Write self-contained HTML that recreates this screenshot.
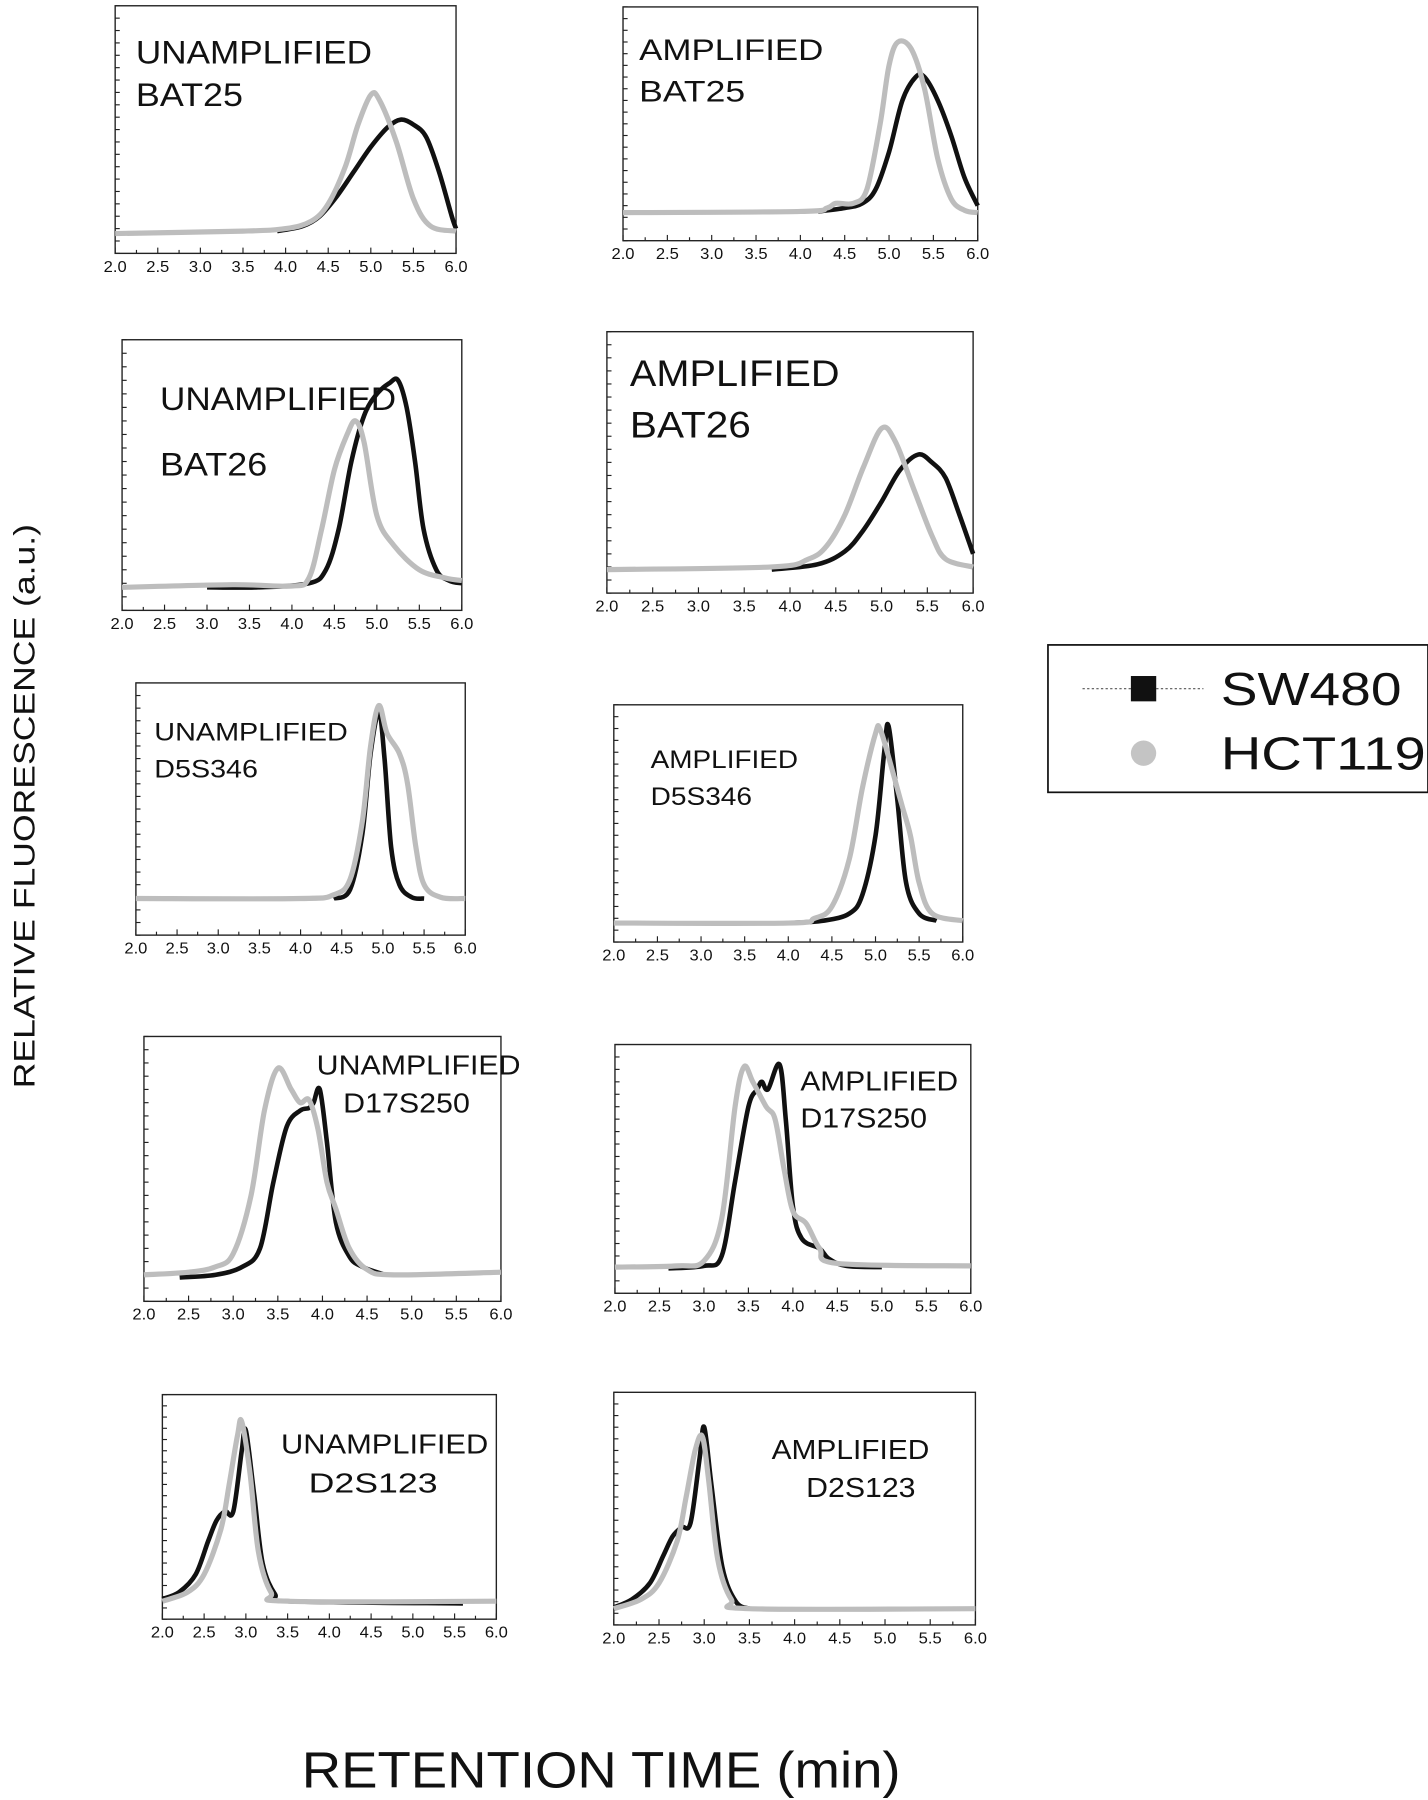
<!DOCTYPE html>
<html><head><meta charset="utf-8"><style>
html,body{margin:0;padding:0;background:#fff;}
svg{display:block;}
text{font-family:"Liberation Sans",sans-serif;fill:#111;}
</style></head><body>
<svg id="fig" width="1428" height="1800" viewBox="0 0 1240 1563" xmlns="http://www.w3.org/2000/svg">
<text transform="translate(30,700) rotate(-90)" text-anchor="middle" font-size="26" textLength="490" lengthAdjust="spacingAndGlyphs">RELATIVE FLUORESCENCE (a.u.)</text>
<text x="262" y="1552" font-size="44" textLength="520" lengthAdjust="spacingAndGlyphs">RETENTION TIME (min)</text>
<g>
<rect x="910" y="560" width="330" height="128" fill="#fff" stroke="#111" stroke-width="1.5"/>
<line x1="940" y1="598" x2="1045" y2="598" stroke="#555" stroke-width="1" stroke-dasharray="2,2"/>
<rect x="982" y="587" width="22" height="22" fill="#111"/>
<text x="1060" y="612" font-size="40" textLength="157" lengthAdjust="spacingAndGlyphs">SW480</text>
<circle cx="993" cy="654" r="11" fill="#c4c4c4"/>
<text x="1060" y="668" font-size="40" textLength="178" lengthAdjust="spacingAndGlyphs">HCT119</text>
</g>
</svg>
<script>
const xTicks = [2.0,2.5,3.0,3.5,4.0,4.5,5.0,5.5,6.0];
const seriesNames = ["SW480","HCT119"];
// values: [retention time, relative fluorescence (0-100 of panel height)]
const bat25UnampGray = [[2,8],[3.5,9],[4.0,10],[4.3,13],[4.5,20],[4.7,35],[4.85,52],[5.0,64],[5.1,62],[5.3,45],[5.5,22],[5.7,11],[6.0,9]];
const bat25UnampBlack = [[3.9,9],[4.2,11],[4.4,15],[4.6,23],[4.8,33],[5.0,43],[5.2,51],[5.35,54],[5.5,52],[5.65,47],[5.8,33],[5.95,15],[6.0,10]];
const bat25AmpGray = [[2,12],[4.0,12.5],[4.3,14],[4.4,16],[4.6,16],[4.75,22],[4.9,50],[5.0,75],[5.1,85],[5.25,82],[5.4,65],[5.55,35],[5.7,18],[5.85,13],[6.0,12]];
const bat25AmpBlack = [[4.2,12.5],[4.5,14],[4.7,16],[4.85,22],[5.0,38],[5.15,60],[5.3,70],[5.4,70],[5.55,60],[5.7,45],[5.85,27],[6.0,15]];
const bat26UnampGray = [[2,8.5],[3.3,9.5],[4.0,9],[4.2,12],[4.35,30],[4.5,52],[4.65,65],[4.75,70],[4.85,62],[5.0,35],[5.2,24],[5.5,15],[5.8,12],[6.0,11]];
const bat26UnampBlack = [[3.0,8.5],[3.6,8.5],[4.2,10],[4.4,15],[4.55,30],[4.7,55],[4.85,72],[5.0,80],[5.15,84],[5.25,85],[5.35,75],[5.45,55],[5.55,30],[5.7,15],[5.85,11],[6.0,10]];
const bat26AmpGray = [[2,9],[3.8,10],[4.2,13],[4.4,18],[4.6,30],[4.8,48],[5.0,63],[5.15,58],[5.35,40],[5.55,22],[5.7,13],[6.0,10]];
const bat26AmpBlack = [[3.8,9],[4.3,11],[4.6,16],[4.8,24],[5.0,35],[5.2,47],[5.4,53],[5.55,50],[5.7,44],[5.85,30],[6.0,15]];
const d5UnampGray = [[2,14.5],[4.0,14.5],[4.4,16],[4.6,22],[4.75,45],[4.85,75],[4.95,91],[5.05,80],[5.2,72],[5.3,60],[5.4,35],[5.5,20],[5.7,15],[6.0,14.5]];
const d5UnampBlack = [[4.4,14.5],[4.6,18],[4.75,40],[4.85,72],[4.95,88],[5.02,70],[5.1,35],[5.2,20],[5.35,15],[5.5,14.5]];
const d5AmpGray = [[2,8],[4.0,8],[4.3,10],[4.5,15],[4.7,35],[4.85,65],[5.0,88],[5.05,90],[5.15,78],[5.3,58],[5.4,45],[5.5,25],[5.65,12],[6.0,9]];
const d5AmpBlack = [[4.0,8],[4.4,9],[4.7,12],[4.85,20],[5.0,45],[5.1,80],[5.15,91],[5.25,60],[5.35,25],[5.5,12],[5.7,9]];
const d17UnampGray = [[2,10],[2.5,11],[2.8,13],[3.0,18],[3.2,40],[3.35,72],[3.5,88],[3.65,80],[3.75,75],[3.85,76],[3.95,65],[4.05,45],[4.15,35],[4.3,20],[4.5,12],[4.8,10],[6.0,11]];
const d17UnampBlack = [[2.4,9],[2.8,10],[3.1,13],[3.3,20],[3.45,45],[3.6,66],[3.75,72],[3.85,73],[3.9,75],[3.97,80],[4.05,60],[4.15,30],[4.3,17],[4.45,13],[4.7,10]];
const d17AmpGray = [[2,10.5],[2.7,11],[3.0,13],[3.2,30],[3.35,75],[3.45,91],[3.55,85],[3.7,75],[3.8,70],[3.9,50],[4.0,33],[4.15,28],[4.3,18],[4.5,12],[6.0,11]];
const d17AmpBlack = [[2.6,10],[3.0,11],[3.2,15],[3.35,45],[3.5,75],[3.6,82],[3.65,85],[3.72,82],[3.85,92],[3.92,70],[4.0,35],[4.1,22],[4.3,18],[4.4,14],[4.6,11],[5.0,10.5]];
const d2UnampGray = [[2,8],[2.3,12],[2.5,20],[2.7,40],[2.8,60],[2.9,82],[2.95,88],[3.05,65],[3.15,30],[3.3,12],[3.5,8],[6.0,8]];
const d2UnampBlack = [[2.0,9],[2.2,12],[2.4,20],[2.55,35],[2.65,44],[2.75,48],[2.85,48],[2.95,75],[3.0,84],[3.1,55],[3.2,25],[3.35,11],[3.5,8],[5.6,7]];
const d2AmpGray = [[2,7],[2.3,11],[2.5,18],[2.7,36],[2.8,55],[2.9,75],[2.98,81],[3.05,62],[3.15,28],[3.3,11],[3.5,7],[6.0,7]];
const d2AmpBlack = [[2.0,7.5],[2.2,11],[2.4,18],[2.55,30],[2.65,38],[2.75,42],[2.85,44],[2.95,72],[3.0,85],[3.08,60],[3.2,25],[3.35,10],[3.5,7]];

const panels = [
 {name:"unamplified-bat25",box:[100,5,396,220],gray:bat25UnampGray,black:bat25UnampBlack,labels:[["UNAMPLIFIED",118,55,28,205],["BAT25",118,92,28,93]]},
 {name:"amplified-bat25",box:[541,6,849,209],gray:bat25AmpGray,black:bat25AmpBlack,labels:[["AMPLIFIED",555,52,26,160],["BAT25",555,88,26,92]]},
 {name:"unamplified-bat26",box:[106,295,401,530],gray:bat26UnampGray,black:bat26UnampBlack,labels:[["UNAMPLIFIED",139,356,28,205],["BAT26",139,413,28,93]]},
 {name:"amplified-bat26",box:[527,288,845,515],gray:bat26AmpGray,black:bat26AmpBlack,labels:[["AMPLIFIED",547,335,32,182],["BAT26",547,380,32,105]]},
 {name:"unamplified-d5s346",box:[118,593,404,812],gray:d5UnampGray,black:d5UnampBlack,labels:[["UNAMPLIFIED",134,643,22,168],["D5S346",134,675,22,90]]},
 {name:"amplified-d5s346",box:[533,612,836,818],gray:d5AmpGray,black:d5AmpBlack,labels:[["AMPLIFIED",565,667,22,128],["D5S346",565,699,22,88]]},
 {name:"unamplified-d17s250",box:[125,900,435,1130],gray:d17UnampGray,black:d17UnampBlack,labels:[["UNAMPLIFIED",275,933,24,177],["D17S250",298,966,24,110]]},
 {name:"amplified-d17s250",box:[534,907,843,1123],gray:d17AmpGray,black:d17AmpBlack,labels:[["AMPLIFIED",695,947,24,137],["D17S250",695,979,24,110]]},
 {name:"unamplified-d2s123",box:[141,1211,431,1406],gray:d2UnampGray,black:d2UnampBlack,labels:[["UNAMPLIFIED",244,1262,24,180],["D2S123",268,1296,24,112]]},
 {name:"amplified-d2s123",box:[533,1209,847,1411],gray:d2AmpGray,black:d2AmpBlack,labels:[["AMPLIFIED",670,1267,24,137],["D2S123",700,1300,24,95]]}
];

const NS="http://www.w3.org/2000/svg";
const svg=document.getElementById('fig');
function mk(tag,attrs,parent){const e=document.createElementNS(NS,tag);for(const k in attrs)e.setAttribute(k,attrs[k]);parent.appendChild(e);return e;}
function pathFrom(pts){
  let d="M"+pts[0][0].toFixed(1)+","+pts[0][1].toFixed(1);
  for(let i=0;i<pts.length-1;i++){
    const p0=pts[Math.max(0,i-1)],p1=pts[i],p2=pts[i+1],p3=pts[Math.min(pts.length-1,i+2)];
    const c1x=p1[0]+(p2[0]-p0[0])/6,c1y=p1[1]+(p2[1]-p0[1])/6;
    const c2x=p2[0]-(p3[0]-p1[0])/6,c2y=p2[1]-(p3[1]-p1[1])/6;
    d+=" C"+c1x.toFixed(1)+","+c1y.toFixed(1)+" "+c2x.toFixed(1)+","+c2y.toFixed(1)+" "+p2[0].toFixed(1)+","+p2[1].toFixed(1);
  }
  return d;
}
panels.forEach(p=>{
  const [l,t,r,b]=p.box;
  const xs=v=>l+(v-2)/4*(r-l);
  const ys=v=>b-v/100*(b-t);
  const g=mk('g',{},svg);
  
  
  const frame=mk('rect',{x:l,y:t,width:r-l,height:b-t,fill:'none',stroke:'#222','stroke-width':1.2},g);
  
  
  for(let i=0;i<=20;i++){
    const yy=t+(b-t)*i/20;
    const tk=mk('line',{x1:l,x2:l+4,y1:yy,y2:yy,stroke:'#222','stroke-width':1},g);
    
    
  }
  for(let i=0;i<=16;i++){
    const xx=xs(2+i*0.25);
    const tk=mk('line',{x1:xx,x2:xx,y1:b,y2:b-(i%2?3:5),stroke:'#222','stroke-width':1},g);
    
    
  }
  xTicks.forEach(v=>{
    const tx=mk('text',{x:xs(v),y:b+16,'font-size':14,'text-anchor':'middle',textLength:20,lengthAdjust:'spacingAndGlyphs'},g);
    tx.textContent=v.toFixed(1);
    
    
  });
  const gp=mk('path',{d:pathFrom(p.gray.map(q=>[xs(q[0]),ys(q[1])])),fill:'none',stroke:'#bdbdbd','stroke-width':4.5,'stroke-linejoin':'round'},g);
  
  
  const bp=mk('path',{d:pathFrom(p.black.map(q=>[xs(q[0]),ys(q[1])])),fill:'none',stroke:'#111','stroke-width':4,'stroke-linejoin':'round'},g);
  
  
  g.appendChild(gp);
  p.labels.forEach(L=>{
    const tx=mk('text',{x:L[1],y:L[2],'font-size':L[3],textLength:L[4],lengthAdjust:'spacingAndGlyphs'},g);
    tx.textContent=L[0];
    
    
  });
});
</script>
</body></html>
